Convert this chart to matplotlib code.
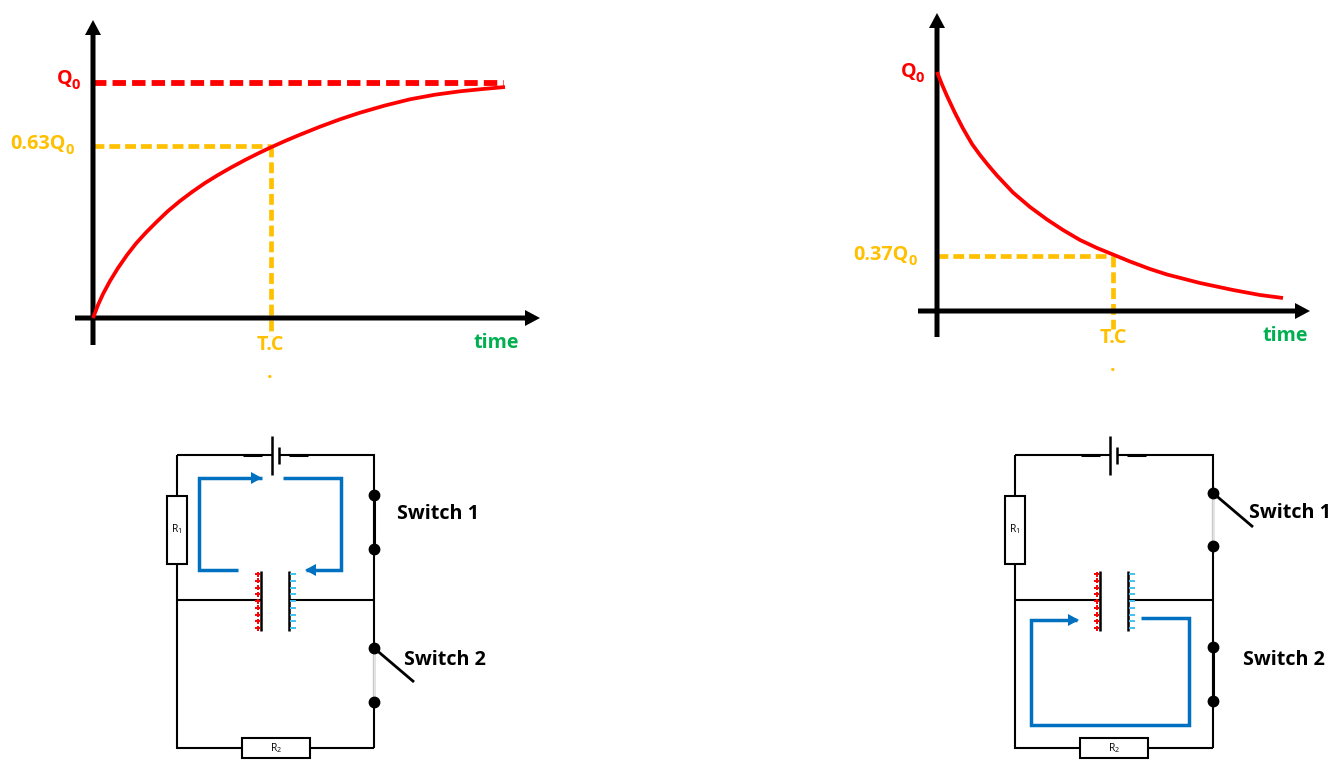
import matplotlib
matplotlib.use("Agg")
import matplotlib.pyplot as plt
from matplotlib.patches import Rectangle

plt.rcParams["font.family"] = ["Open Sans", "DejaVu Sans"]
plt.rcParams["mathtext.fontset"] = "custom"
plt.rcParams["mathtext.rm"] = "Open Sans"
plt.rcParams["mathtext.bf"] = "Open Sans:bold"

# curves, in pixels
charge_x = [93, 98, 103, 110, 118, 127, 136, 146, 157, 168, 180, 192, 205, 218, 232, 246,
            260, 271, 285, 300, 320, 340, 360, 385, 410, 435, 460, 485, 505]
charge_y = [318, 305, 294, 281, 268, 255, 243.5, 232.5, 221.5, 211, 201, 192, 183, 175, 167, 159.5,
            152.5, 147.3, 141, 134.7, 126.7, 119.3, 112.7, 105.5, 99.3, 94.7, 91.3, 88.8, 87]
discharge_x = [937, 942, 947, 955, 963, 972, 980, 988, 997, 1013, 1030, 1047, 1063, 1080, 1097,
               1113, 1130, 1150, 1167, 1200, 1233, 1260, 1283]
discharge_y = [72, 84.5, 96, 113, 128.5, 144, 155, 165, 175.5, 192.5, 207, 219.5, 230, 240, 248,
               254.5, 261.5, 269, 274.5, 283, 290, 295, 298]

# current loops
loop1_left_x = [238, 199, 199, 262]
loop1_left_y = [570, 570, 478, 478]
loop1_right_x = [283, 341, 341, 306]
loop1_right_y = [478, 478, 570, 570]
loop2_x = [1141, 1189, 1189, 1031, 1031, 1077]
loop2_y = [618, 618, 725, 725, 620, 620]

RED = "#ff0000"
YELLOW = "#ffc000"
GREEN = "#00b050"
BLUE = "#0070c0"
CYAN = "#45c1f0"

fig = plt.figure(figsize=(13.34, 7.8), dpi=100)
ax = fig.add_axes([0, 0, 1, 1])
ax.set_xlim(0, 1334)
ax.set_ylim(780, 0)
ax.axis("off")


def arrow_axis(x0, y0, x1, y1):
    ax.arrow(x0, y0, x1 - x0, y1 - y0, width=5, head_width=16, head_length=15,
             length_includes_head=True, color="black", lw=0, zorder=3)


def line(x, y, color="black", lw=1.5, **kw):
    ax.plot(x, y, color=color, lw=lw, solid_capstyle="butt", solid_joinstyle="miter", **kw)


def dashed(x, y, color, lw, dash):
    ax.plot(x, y, color=color, lw=lw, ls=(0, dash), dash_capstyle="butt", zorder=2)


def curve(x, y):
    ax.plot(x, y, color=RED, lw=2.7, solid_joinstyle="round", solid_capstyle="butt", zorder=4)


def blue_arrow(x0, y0, x1, y1):
    ax.arrow(x0, y0, x1 - x0, y1 - y0, width=0, head_width=12, head_length=11,
             length_includes_head=True, color=BLUE, lw=0, zorder=4)


def text(x, y, s, color="black", size=14.2, weight="bold", ha="center"):
    ax.text(x, y, s, color=color, fontsize=size, fontweight=weight, ha=ha, va="center")


def sub_label(x, y, s, color):
    # main text ends at x, the subscript zero follows it
    text(x, y, s, color, ha="right")
    text(x - 0.5, y + 6, "0", color, size=10.5, ha="left")


def circuit(x0, dots, open_top, px, wire_right):
    # x0 = left wire, wire_right = right wire, px = capacitor plates
    top, mid, bottom = 455, 600, 748
    batt = x0 + 95
    line([x0, batt], [top, top])
    line([batt + 7, wire_right, wire_right], [top, top, bottom])
    line([x0, x0, wire_right], [top, bottom, bottom])
    line([batt - 29, batt - 10], [top, top], lw=2.2)
    line([batt + 17, batt + 36], [top, top], lw=2.2)
    line([batt, batt], [436, 475], lw=1.8)
    line([batt + 7, batt + 7], [447, 464], lw=1.8)

    # resistors
    ax.add_patch(Rectangle((x0 - 10, 496), 20, 68, fc="white", ec="black", lw=1.5, zorder=3))
    ax.add_patch(Rectangle((x0 + 65, 738), 68, 20, fc="white", ec="black", lw=1.5, zorder=3))
    ax.text(x0, 529, r"R$_1$", fontsize=7.5, ha="center", va="center", zorder=5)
    ax.text(x0 + 99, 748, r"R$_2$", fontsize=7.5, ha="center", va="center", zorder=5)

    # capacitor
    line([x0, px[0]], [mid, mid])
    line([px[1], wire_right], [mid, mid])
    line([px[0], px[0]], [571, 631], lw=1.8)
    line([px[1], px[1]], [571, 631], lw=1.8)
    for k in range(9):
        yy = 574 + k * 6.75
        line([px[0] - 6, px[0] - 1], [yy, yy], color=RED, lw=1.4)
        line([px[0] - 3.5, px[0] - 3.5], [yy - 2.5, yy + 2.5], color=RED, lw=1.4)
        line([px[1] + 1, px[1] + 7], [yy, yy], color=CYAN, lw=1.4)

    # switches
    for pair, is_open in zip(dots, open_top):
        if is_open:
            line([wire_right, wire_right], pair, color="#e3e3e3", lw=2, zorder=3)
            line([wire_right, wire_right + 40], [pair[0], pair[0] + 34], lw=2, zorder=3)
        else:
            line([wire_right, wire_right], pair, lw=2.2, zorder=3)
        ax.plot([wire_right] * 2, pair, "o", color="black", ms=7.5, zorder=4)


# charging graph
dashed([93, 504], [83, 83], RED, 4.2, (2.3, 1.05))
dashed([93, 271], [146, 146], YELLOW, 3.4, (2.3, 1.05))
dashed([270.5, 270.5], [146, 336], YELLOW, 3.4, (2.3, 1.05))
curve(charge_x, charge_y)
arrow_axis(93, 345, 93, 20)
arrow_axis(75, 318, 540, 318)
sub_label(72, 79, "Q", RED)
sub_label(66, 144, "0.63Q", YELLOW)
text(270, 345, "T.C", YELLOW)
text(270, 373, ".", YELLOW)
text(496, 343, "time", GREEN)

# discharging graph
dashed([937, 1113], [256, 256], YELLOW, 3.4, (2.3, 1.05))
dashed([1113, 1113], [256, 329], YELLOW, 3.4, (2.3, 1.05))
curve(discharge_x, discharge_y)
arrow_axis(937, 337, 937, 13)
arrow_axis(918, 311, 1310, 311)
sub_label(916, 72, "Q", RED)
sub_label(909, 255, "0.37Q", YELLOW)
text(1113, 338, "T.C", YELLOW)
text(1113, 366, ".", YELLOW)
text(1285, 336, "time", GREEN)

# circuits
circuit(177, [[495, 549], [648, 702]], [False, True], (261, 289), 374)
circuit(1015, [[493, 546], [647, 701]], [True, False], (1100, 1128), 1213)
text(438, 514, "Switch 1")
text(445, 660, "Switch 2")
text(1290, 513, "Switch 1")
text(1284, 660, "Switch 2")

# current arrows
line(loop1_left_x, loop1_left_y, color=BLUE, lw=2.5)
line(loop1_right_x, loop1_right_y, color=BLUE, lw=2.5)
line(loop2_x, loop2_y, color=BLUE, lw=2.5)
blue_arrow(loop1_left_x[-2], loop1_left_y[-1], loop1_left_x[-1], loop1_left_y[-1])
blue_arrow(loop1_right_x[-2], loop1_right_y[-1], loop1_right_x[-1] - 1, loop1_right_y[-1])
blue_arrow(loop2_x[-2], loop2_y[-1], loop2_x[-1] + 2, loop2_y[-1])

fig.savefig("out.png", dpi=100)
